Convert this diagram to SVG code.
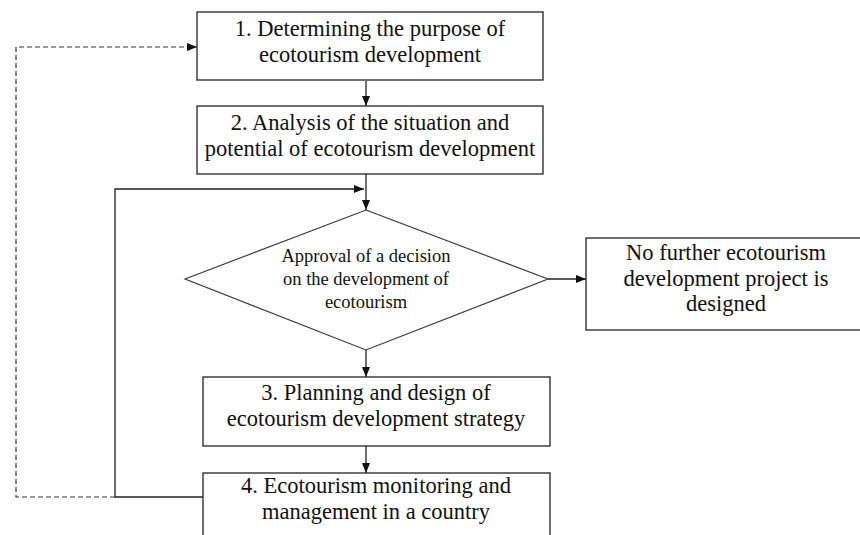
<svg xmlns="http://www.w3.org/2000/svg" width="860" height="535" viewBox="0 0 860 535">
<style>
.box{fill:#fff;stroke:#222;stroke-width:1.3}
.dia{fill:#fff;stroke:#333;stroke-width:1.1}
.t{font-size:22.5px;fill:#111;text-anchor:middle}
.ts{font-size:18.5px;fill:#111;text-anchor:middle}
.ln{fill:none;stroke:#222;stroke-width:1.3}
.dash{fill:none;stroke:#333;stroke-width:1.2;stroke-dasharray:5 3}
</style>
<defs>
<marker id="ah" viewBox="0 0 10 10" refX="10" refY="5" markerWidth="10" markerHeight="10" markerUnits="userSpaceOnUse" orient="auto">
<path d="M0,1 L10,5 L0,9 Z" fill="#111"/>
</marker>
</defs>
<rect width="860" height="535" fill="#fff"/>
<g id="connectors">
<line class="ln" x1="366" y1="81" x2="366" y2="106" marker-end="url(#ah)"/>
<line class="ln" x1="366" y1="174" x2="366" y2="210" marker-end="url(#ah)"/>
<polyline class="ln" points="203,497 115,497 115,189 364,189" marker-end="url(#ah)"/>
<line class="ln" x1="548" y1="279" x2="586" y2="279" marker-end="url(#ah)"/>
<line class="ln" x1="366" y1="350" x2="366" y2="377" marker-end="url(#ah)"/>
<line class="ln" x1="366" y1="446" x2="366" y2="473" marker-end="url(#ah)"/>
<polyline class="dash" points="115,497 16,497 16,47 197,47" marker-end="url(#ah)"/>
</g>
<g font-family="'Liberation Serif', 'Times New Roman', Times, 'DejaVu Serif', serif">
<g id="n1">
<rect class="box" x="197" y="12" width="346" height="68"/>
<text class="t" x="370" y="36">1. Determining the purpose of</text>
<text class="t" x="370" y="62">ecotourism development</text>
</g>
<g id="n2">
<rect class="box" x="197" y="106" width="346" height="68"/>
<text class="t" x="370" y="130">2. Analysis of the situation and</text>
<text class="t" x="370" y="156">potential of ecotourism development</text>
</g>
<g id="decision">
<polygon class="dia" points="366,210 548,279 366,350 185,279"/>
<text class="ts" x="366" y="262">Approval of a decision</text>
<text class="ts" x="366" y="285">on the development of</text>
<text class="ts" x="366" y="308">ecotourism</text>
</g>
<g id="nostop">
<rect class="box" x="586" y="238" width="280" height="92"/>
<text class="t" x="726" y="260">No further ecotourism</text>
<text class="t" x="726" y="286">development project is</text>
<text class="t" x="726" y="311">designed</text>
</g>
<g id="n3">
<rect class="box" x="203" y="377" width="347" height="69"/>
<text class="t" x="376" y="400">3. Planning and design of</text>
<text class="t" x="376" y="426">ecotourism development strategy</text>
</g>
<g id="n4">
<rect class="box" x="203" y="473" width="347" height="75"/>
<text class="t" x="376" y="493">4. Ecotourism monitoring and</text>
<text class="t" x="376" y="519">management in a country</text>
</g>
</g>
</svg>
